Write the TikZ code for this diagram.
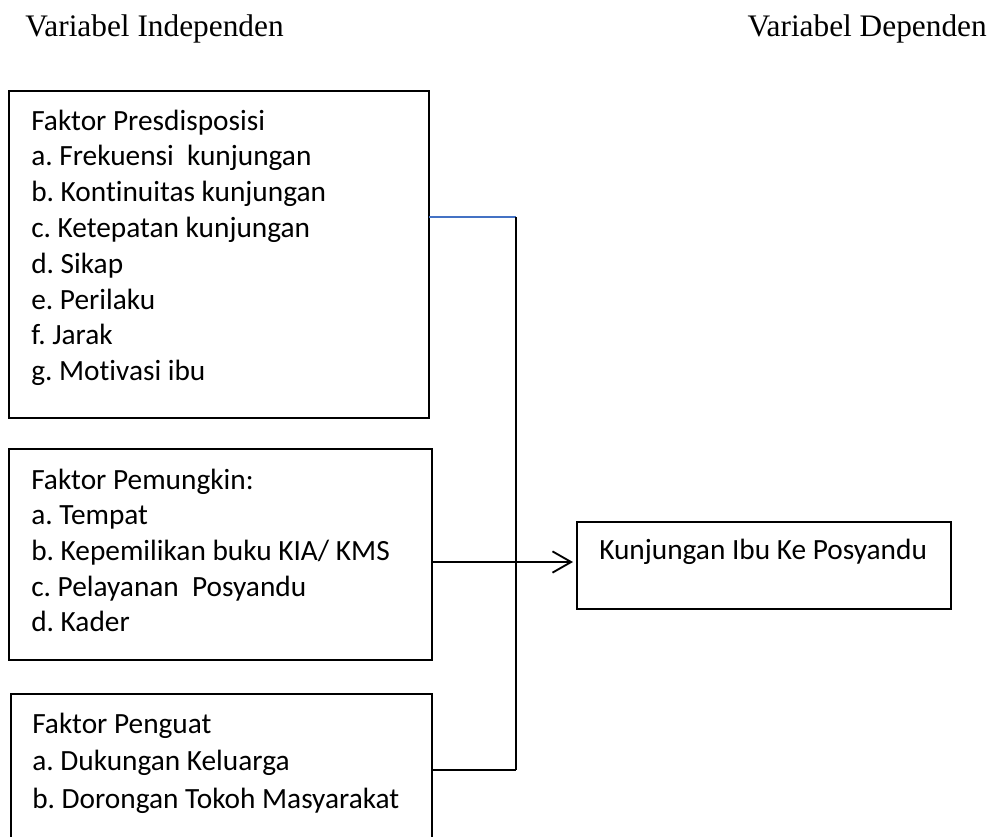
\documentclass[tikz,border=0pt]{standalone}
\usepackage{fontspec}
\setmainfont{Carlito}[Ligatures={NoCommon,NoRare,NoContextual}]
\newfontfamily\timesfont{Liberation Serif}
\usetikzlibrary{arrows.meta}
\frenchspacing
\begin{document}
\begin{tikzpicture}[x=0.75pt,y=-0.75pt,
  box/.style={draw=black,line width=1.1pt,inner sep=0pt,outer sep=0pt,anchor=north west},
  itm/.style={anchor=base west,inner sep=0pt,font=\fontsize{22pt}{25pt}\selectfont},
  hdr/.style={inner sep=0pt,font=\timesfont\fontsize{23.5pt}{27pt}\selectfont},
  conn/.style={line width=1.1pt,draw=black},
  blueconn/.style={line width=1pt,draw={rgb,255:red,68;green,114;blue,196}}]
\useasboundingbox (0,0) rectangle (995,836);
% headers
\node[hdr,anchor=base west] (hi) at (25,36) {Variabel Independen};
\node[hdr,anchor=base east] (hd) at (987,36) {Variabel Dependen};
% boxes
\node[box,minimum width={420*0.75pt},minimum height={327*0.75pt}] (b1) at (9,91) {};
\node[box,minimum width={423*0.75pt},minimum height={211*0.75pt}] (b2) at (9,449) {};
\node[box,minimum width={421*0.75pt},minimum height={150*0.75pt}] (b3) at (11,694) {};
\node[box,minimum width={374*0.75pt},minimum height={87*0.75pt}] (tgt) at (577,522) {};
% box 1 text
\foreach \t [count=\i from 0] in {Faktor Presdisposisi,a. Frekuensi\ \ kunjungan,b. Kontinuitas kunjungan,c. Ketepatan kunjungan,d. Sikap,e. Perilaku,f. Jarak,g. Motivasi ibu}
  \node[itm] (p\i) at (31,130+35.8*\i) {\t};
% box 2 text
\foreach \t [count=\i from 0] in {Faktor Pemungkin:,a. Tempat,b. Kepemilikan buku KIA/ KMS,c. Pelayanan\ \ Posyandu,d. Kader}
  \node[itm] (q\i) at (31,489+35.7*\i) {\t};
% box 3 text
\foreach \t [count=\i from 0] in {Faktor Penguat,a. Dukungan Keluarga,b. Dorongan Tokoh Masyarakat}
  \node[itm] (r\i) at (32,733+37.5*\i) {\t};
% target text
\node[itm] (tt) at (599,559) {Kunjungan Ibu Ke Posyandu};
% connectors
\coordinate (j1) at (516,217);
\coordinate (j3) at (516,770);
\coordinate (ay) at (0,562);
\draw[blueconn] (b1.east |- j1) -- (j1);
\draw[conn] (j1) -- (j3);
\draw[conn] (b3.east |- j3) -- (j3);
\draw[conn,-{Straight Barb[length=14pt,width=16pt,line width=1.4pt]}] (b2.east |- ay) -- ([xshift=-3pt]tgt.west |- ay);
\end{tikzpicture}
\end{document}
